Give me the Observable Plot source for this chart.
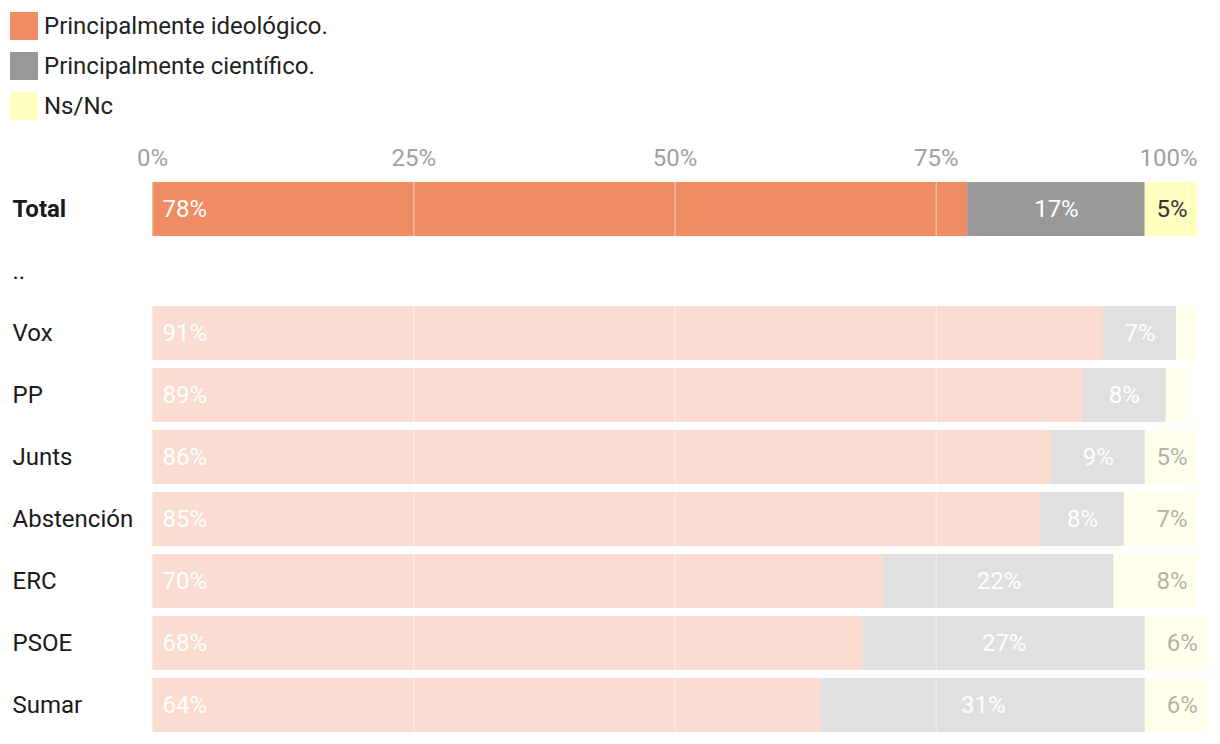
<!DOCTYPE html>
<html>
<head>
<meta charset="utf-8">
<script src="https://cdn.jsdelivr.net/npm/d3@7"></script>
<script src="https://cdn.jsdelivr.net/npm/@observablehq/plot@0.6"></script>
<style>
  body { margin: 0; background: #fff; font-family: Roboto, "Noto Sans", sans-serif; }
  #legend { height: 130px; position: relative; }
  .item { position: absolute; left: 10px; height: 28px; display: flex; align-items: center; font-size: 24px; color: #222; }
  .sw { width: 28px; height: 28px; margin-right: 6px; flex: none; }
  svg { display: block; }
</style>
</head>
<body>
<div id="legend"></div>
<div id="chart"></div>
<script>
const groups = ["Total", "..", "Vox", "PP", "Junts", "Abstención", "ERC", "PSOE", "Sumar"];
const series = ["Principalmente ideológico.", "Principalmente científico.", "Ns/Nc"];
const colors = ["#f08c64", "#999999", "#ffffc0"];
const ideologico = [78, null, 91, 89, 86, 85, 70, 68, 64];
const cientifico = [17, null, 7, 8, 9, 8, 22, 27, 31];
const nsnc       = [5, null, 2, 2, 5, 7, 8, 6, 6];
const ticks = [0, 25, 50, 75, 100];

const cols = [ideologico, cientifico, nsnc];
const data = [];
groups.forEach((g, i) => {
  cols.forEach((c, j) => {
    if (c[i] != null) data.push({group: g, series: series[j], idx: j, value: c[i]});
  });
});

// legend
const leg = document.getElementById("legend");
series.forEach((s, j) => {
  const d = document.createElement("div");
  d.className = "item";
  d.style.top = (12 + 40 * j) + "px";
  d.innerHTML = `<div class="sw" style="background:${colors[j]}"></div><span>${s}</span>`;
  leg.appendChild(d);
});

const op = d => d.group === "Total" ? 1 : 0.3;
const lbl = d => d.value >= 3 ? d.value + "%" : null;
const FS = 24;

const chart = Plot.plot({
  width: 1220,
  height: 614,
  marginLeft: 152,
  marginRight: 23,
  marginTop: 52,
  marginBottom: 12,
  style: {fontFamily: "Roboto, 'Noto Sans', sans-serif", fontSize: FS + "px", overflow: "visible"},
  x: {domain: [0, 100], axis: null},
  y: {domain: groups, paddingInner: 8 / 62, paddingOuter: 0, axis: null},
  color: {domain: series, range: colors},
  marks: [
    Plot.axisX(ticks.slice(0, 4), {anchor: "top", tickSize: 0, tickPadding: 17, tickFormat: d => d + "%", fill: "#a0a0a0", fontSize: FS, label: null}),
    Plot.axisX([100], {anchor: "top", tickSize: 0, tickPadding: 17, tickFormat: d => d + "%", fill: "#a0a0a0", fontSize: FS, textAnchor: "end", label: null}),
    Plot.axisY(["Total"], {anchor: "left", tickSize: 0, tickPadding: 140, textAnchor: "start", fontWeight: "bold", fill: "#1a1a1a", fontSize: FS, label: null}),
    Plot.axisY(groups.slice(1), {anchor: "left", tickSize: 0, tickPadding: 140, textAnchor: "start", fill: "#1a1a1a", fontSize: FS, label: null}),
    Plot.barX(data, Plot.stackX({x: "value", y: "group", fill: "series", fillOpacity: op, order: "idx"})),
    Plot.ruleX(ticks, {stroke: "white", strokeOpacity: 0.4, strokeWidth: 1.5}),
    Plot.text(data, Plot.stackX1({x: "value", y: "group", order: "idx",
      text: d => d.idx === 0 ? lbl(d) : null, textAnchor: "start", dx: 10, fill: "white", fontSize: FS})),
    Plot.text(data, Plot.stackX({x: "value", y: "group", order: "idx",
      text: d => d.idx === 1 ? lbl(d) : null, textAnchor: "middle", fill: "white", fontSize: FS})),
    Plot.text(data, Plot.stackX2({x: "value", y: "group", order: "idx",
      text: d => d.idx === 2 ? lbl(d) : null, textAnchor: "end", dx: -10, fontSize: FS,
      fill: "#333", fillOpacity: d => d.group === "Total" ? 1 : 0.4}))
  ]
});
document.getElementById("chart").appendChild(chart);
</script>
</body>
</html>
